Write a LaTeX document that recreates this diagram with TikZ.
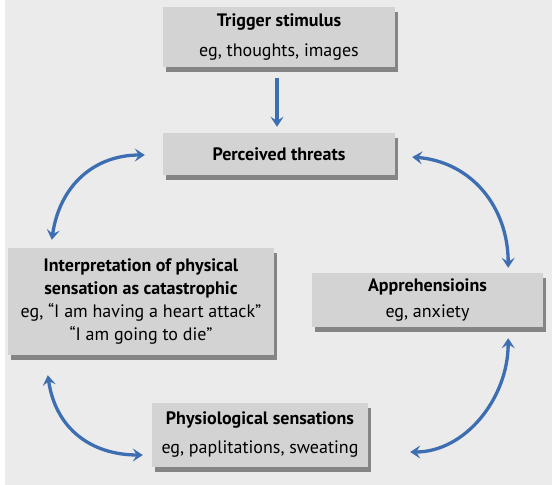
\documentclass[tikz,border=0pt]{standalone}
\usepackage{fontspec}
\setmainfont{PT Sans}
\usetikzlibrary{arrows.meta,calc}
\definecolor{bgc}{HTML}{EBEBEB}
\definecolor{facec}{HTML}{D3D3D3}
\definecolor{shadc}{HTML}{858585}
\definecolor{arrc}{HTML}{3D6EB2}
\tikzset{
  box/.style={rectangle, fill=facec, inner sep=0pt, align=center, font=\fontsize{18}{22}\selectfont,
    preaction={fill=shadc, transform canvas={xshift=3pt,yshift=-5pt}}},
  link/.style={draw=arrc, line width=3.3pt, {Stealth[length=10pt,width=13pt,inset=4pt]}-{Stealth[length=10pt,width=13pt,inset=4pt]}},
  onelink/.style={draw=arrc, line width=3.3pt, -{Stealth[length=10pt,width=13pt,inset=4pt]}}
}
\begin{document}
\begin{tikzpicture}[x=1pt,y=-1pt]
\useasboundingbox (0,0) rectangle (558,485);
\fill[white] (0,0) rectangle (558,485);
\fill[bgc] (5,0) rectangle (552,485);
\node[box, minimum width=232pt, minimum height=60pt] (trig) at (279,37)
  {\textbf{Trigger stimulus}\\[8pt] eg, thoughts, images};
\node[box, minimum width=232pt, minimum height=42pt] (threat) at (279,154)
  {\textbf{Perceived threats}};
\node[box, minimum width=266pt, minimum height=107pt, font=\fontsize{18}{23}\selectfont] (interp) at (141,301.5)
  {\textbf{Interpretation of physical}\\\textbf{sensation as catastrophic}\\eg, “I am having a heart attack”\\“I am going to die”};
\node[box, minimum width=231pt, minimum height=54pt] (appr) at (427.5,300)
  {\textbf{Apprehensioins}\\[4pt] eg, anxiety};
\node[box, minimum width=216pt, minimum height=64pt] (phys) at (260,435)
  {\textbf{Physiological sensations}\\[7pt] eg, paplitations, sweating};
% arrow end points near the boxes
\coordinate (trigB) at ($(trig.south)+(-2,11)$);
\coordinate (threatT) at ($(threat.north)+(-2,-6)$);
\coordinate (threatL) at ($(threat.west)+(-18,1)$);
\coordinate (threatR) at ($(threat.east)+(17,3)$);
\coordinate (interpT) at ($(interp.north west)+(44,-8)$);
\coordinate (interpB) at ($(interp.south west)+(40,20)$);
\coordinate (apprT) at ($(appr.north east)+(-35,-5)$);
\coordinate (apprB) at ($(appr.south east)+(-35,11)$);
\coordinate (physL) at ($(phys.west)+(-9,20)$);
\coordinate (physR) at ($(phys.east)+(42,17)$);
\draw[onelink] (trigB) -- (threatT);
\draw[link] (interpT) .. controls ($(interpT)+(8,-55)$) and ($(threatL)+(-50,0)$) .. (threatL);
\draw[link] (threatR) .. controls ($(threatR)+(60,5)$) and ($(apprT)+(0,-60)$) .. (apprT);
\draw[link] (apprB) .. controls ($(apprB)+(0,60)$) and ($(physR)+(55,0)$) .. (physR);
\draw[link] (interpB) .. controls ($(interpB)+(8,55)$) and ($(physL)+(-50,0)$) .. (physL);
\end{tikzpicture}
\end{document}
